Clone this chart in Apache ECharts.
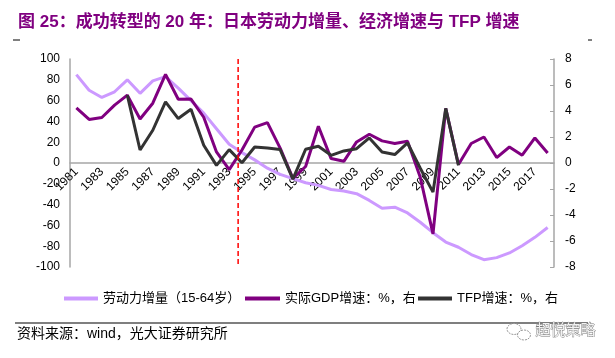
<!DOCTYPE html>
<html>
<head>
<meta charset="utf-8">
<script src="https://cdn.jsdelivr.net/npm/echarts@6/dist/echarts.min.js"></script>
<style>html,body{margin:0;padding:0;background:#fff}#c{width:615px;height:358px}</style>
</head>
<body>
<div id="c"></div>
<script>
var years = ['1981','1982','1983','1984','1985','1986','1987','1988','1989','1990','1991','1992','1993','1994','1995','1996','1997','1998','1999','2000','2001','2002','2003','2004','2005','2006','2007','2008','2009','2010','2011','2012','2013','2014','2015','2016','2017','2018'];
var labor = [85,70,63,68.5,80,67,79,83,72,60,48,33,18,10,3,-5,-11,-15,-19,-21.5,-25.5,-27,-29.5,-36,-43.5,-42.5,-48,-57,-67,-76,-81,-88,-93,-91,-86.5,-79.5,-71.5,-62];
var gdp = [4.24,3.35,3.5,4.45,5.22,3.38,4.6,6.82,4.9,4.92,3.52,0.85,-0.51,1.0,2.76,3.1,1.15,-1.18,-0.27,2.83,0.34,0.13,1.62,2.21,1.7,1.5,1.67,-1.1,-5.45,4.2,-0.12,1.5,2.0,0.42,1.23,0.6,1.93,0.77];
var tfp = [null,null,null,null,5.22,1.0,2.52,4.7,3.42,4.13,1.37,-0.18,1.03,0.02,1.23,1.16,1.03,-1.24,1.06,1.29,0.59,0.93,1.1,1.93,0.85,0.65,1.54,-0.4,-2.24,4.2,-0.18,null,null,null,null,null,null,null];
var leftTicks = {min:-100, max:100, interval:20};
var rightTicks = {min:-8, max:8, interval:2};
var reformYear = '1993';
var reformFrac = 0.7;

var FONT = "'Liberation Sans', Arial, 'Noto Sans CJK SC', sans-serif";
var chart = echarts.init(document.getElementById('c'), null, {renderer:'canvas'});
var legendText = {fontSize:13, color:'#000', fontFamily:FONT};
var baseGraphic = [
  {type:'text', left:18, top:14, style:{text:'图 25：成功转型的 20 年：日本劳动力增量、经济增速与 TFP 增速', fontSize:17, fontWeight:'bold', fill:'#800080', fontFamily:FONT}},
  {type:'line', shape:{x1:13, y1:40, x2:20, y2:40}, style:{stroke:'#000', lineWidth:1}},
  {type:'line', shape:{x1:588, y1:40, x2:592, y2:40}, style:{stroke:'#000', lineWidth:1}},
  {type:'line', shape:{x1:15, y1:323, x2:588, y2:323}, style:{stroke:'#000', lineWidth:1.2}},
  {type:'text', left:17, top:327, style:{text:'资料来源：wind，光大证券研究所', fontSize:14, fill:'#000', fontFamily:FONT}},
  {type:'ellipse', shape:{cx:514, cy:329, rx:7, ry:5.5}, style:{fill:'none', stroke:'#999', lineWidth:1, lineDash:[2,1]}},
  {type:'ellipse', shape:{cx:524, cy:335, rx:6.5, ry:5}, style:{fill:'#fff', stroke:'#999', lineWidth:1, lineDash:[2,1]}},
  {type:'text', left:535, top:323, style:{text:'超悦策略', fontSize:15, fill:'#f2f2f2', stroke:'#777', lineWidth:0.8, fontFamily:FONT}}
];
chart.setOption({
  animation:false,
  backgroundColor:'#fff',
  grid:{left:70, right:61, top:59, bottom:91, containLabel:false},
  legend:[
    {data:['劳动力增量（15-64岁）'], left:64, top:292, icon:'rect', itemWidth:34, itemHeight:4, textStyle:legendText, padding:0},
    {data:['实际GDP增速：%，右'], left:245, top:292, icon:'rect', itemWidth:35, itemHeight:4, textStyle:legendText, padding:0},
    {data:['TFP增速：%，右'], left:418, top:292, icon:'rect', itemWidth:34, itemHeight:4, textStyle:legendText, padding:0}
  ],
  xAxis:{type:'category', data:years, boundaryGap:true, position:'bottom', offset:0,
     axisLine:{onZero:false, lineStyle:{color:'#a6a6a6', width:1.5}},
     axisTick:{show:false},
     axisLabel:{interval:1, rotate:45, margin:7, fontSize:12, color:'#000', fontFamily:FONT}},
  yAxis:[
    {type:'value', min:leftTicks.min, max:leftTicks.max, interval:leftTicks.interval,
     axisLine:{show:true, onZero:false, lineStyle:{color:'#a6a6a6', width:1.5}},
     axisTick:{show:false}, splitLine:{show:false},
     axisLabel:{fontSize:12, color:'#000', margin:10, fontFamily:FONT}},
    {type:'value', min:rightTicks.min, max:rightTicks.max, interval:rightTicks.interval, position:'right',
     axisLine:{show:true, onZero:false, lineStyle:{color:'#a6a6a6', width:1.5}},
     axisTick:{show:true, inside:true, length:4, lineStyle:{color:'#a6a6a6'}}, splitLine:{show:false},
     axisLabel:{fontSize:12, color:'#000', margin:11, fontFamily:FONT}}
  ],
  series:[
    {name:'劳动力增量（15-64岁）', type:'line', data:labor, yAxisIndex:0, showSymbol:false, symbol:'none',
     lineStyle:{color:'#cc99ff', width:3}, itemStyle:{color:'#cc99ff'}, z:2},
    {name:'实际GDP增速：%，右', type:'line', data:gdp, yAxisIndex:1, showSymbol:false, symbol:'none',
     lineStyle:{color:'#800080', width:3}, itemStyle:{color:'#800080'}, z:3},
    {name:'TFP增速：%，右', type:'line', data:tfp, yAxisIndex:1, showSymbol:false, symbol:'none', connectNulls:false,
     lineStyle:{color:'#333333', width:3}, itemStyle:{color:'#333333'}, z:4}
  ],
  graphic:baseGraphic
});
// move the category axis (line + labels) to the zero level, using the library's scale
var yZero = chart.convertToPixel({yAxisIndex:0}, 0);
var yTop = chart.convertToPixel({yAxisIndex:0}, leftTicks.max);
var yBot = chart.convertToPixel({yAxisIndex:0}, leftTicks.min);
// red dashed vertical marker between category centres
var idx = years.indexOf(reformYear);
var p0 = chart.convertToPixel({xAxisIndex:0}, years[idx]);
var p1 = chart.convertToPixel({xAxisIndex:0}, years[idx+1]);
var px = p0 + (p1 - p0) * reformFrac;
chart.setOption({
  xAxis:{offset: -(yBot - yZero)},
  graphic: baseGraphic.concat([
    {type:'line', z:100, shape:{x1:px, y1:yTop, x2:px, y2:yBot}, style:{stroke:'#ff0000', lineWidth:1.5, lineDash:[5,3]}}
  ])
});
</script>
</body>
</html>
